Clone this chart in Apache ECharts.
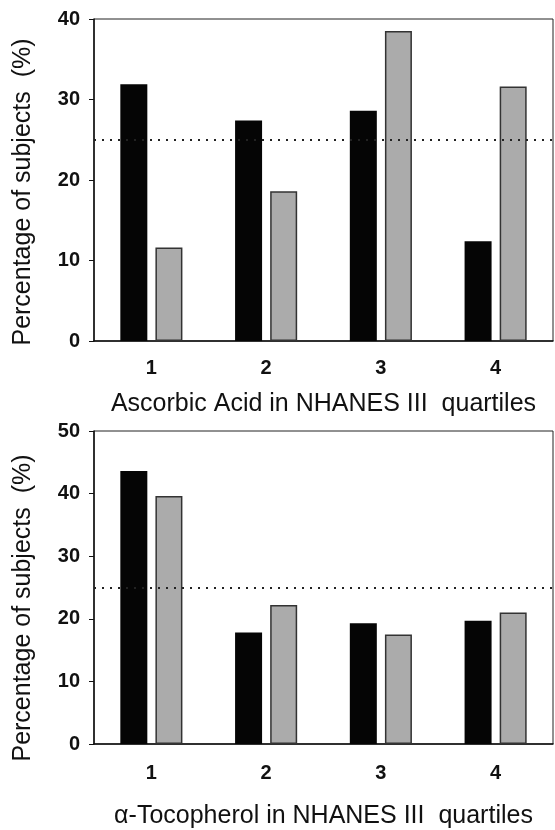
<!DOCTYPE html>
<html>
<head>
<meta charset="utf-8">
<script src="https://cdn.jsdelivr.net/npm/echarts@6/dist/echarts.min.js"></script>
<style>
html,body{margin:0;padding:0;background:#fff;}
#chart{width:555px;height:830px;}
</style>
</head>
<body>
<div id="chart"></div>
<script>
const quartiles = ['1', '2', '3', '4'];
const ascorbicBlack = [31.9, 27.4, 28.6, 12.4];
const ascorbicGray = [11.6, 18.6, 38.5, 31.6];
const tocopherolBlack = [43.6, 17.8, 19.3, 19.7];
const tocopherolGray = [39.6, 22.2, 17.5, 21.0];
const referenceLevel = 25;
const topTitle = 'Ascorbic Acid in NHANES III  quartiles';
const bottomTitle = '\u03b1-Tocopherol in NHANES III  quartiles';
const yTitle = 'Percentage of subjects  (%)';

const FONT = 'Liberation Sans, Arial, sans-serif';

function xAxisDef(gridIndex, name, nameGap, labelMargin) {
  return {
    type: 'category', gridIndex: gridIndex, data: quartiles,
    name: name, nameLocation: 'middle', nameGap: nameGap,
    nameTextStyle: {fontFamily: FONT, fontSize: 25, color: '#111'},
    axisLine: {lineStyle: {color: '#111', width: 1.5}},
    axisTick: {alignWithLabel: true, length: 5, lineStyle: {color: '#111'}},
    axisLabel: {fontFamily: FONT, fontSize: 20, fontWeight: 'bold', color: '#111', margin: labelMargin}
  };
}
function yAxisDef(gridIndex, max) {
  return {
    type: 'value', gridIndex: gridIndex, min: 0, max: max, interval: 10,
    axisLine: {show: true, lineStyle: {color: '#111', width: 1.5}},
    axisTick: {show: true, length: 5, lineStyle: {color: '#111'}},
    splitLine: {show: false},
    axisLabel: {fontFamily: FONT, fontSize: 20, fontWeight: 'bold', color: '#111', margin: 14}
  };
}
function barSeries(idx, data, dark, withLine) {
  const s = {
    type: 'bar', xAxisIndex: idx, yAxisIndex: idx, data: data,
    barWidth: 27, barGap: '30%',
    itemStyle: dark ? {color: '#050505'} : {color: '#ababab', borderColor: '#333', borderWidth: 1.5},
    silent: true
  };
  if (withLine) {
    s.markLine = {
      silent: true, symbol: ['none', 'none'], label: {show: false},
      lineStyle: {color: '#222', type: [2, 6], width: 2},
      data: [{yAxis: referenceLevel}],
      z: 10
    };
  }
  return s;
}

const chart = echarts.init(document.getElementById('chart'), null, {renderer: 'canvas'});
chart.setOption({
  animation: false,
  backgroundColor: '#fff',
  grid: [
    {left: 94, right: 2, top: 19, height: 322, show: true, borderColor: '#222', borderWidth: 1},
    {left: 94, right: 2, top: 431, height: 317, show: true, borderColor: '#222', borderWidth: 1}
  ],
  xAxis: [xAxisDef(0, topTitle, 51, 17), xAxisDef(1, bottomTitle, 60, 19)],
  yAxis: [yAxisDef(0, 40), yAxisDef(1, 50)],
  series: [
    barSeries(0, ascorbicBlack, true, false),
    barSeries(0, ascorbicGray, false, true),
    barSeries(1, tocopherolBlack, true, false),
    barSeries(1, tocopherolGray, false, true)
  ],
  graphic: [
    {type: 'text', x: 23, y: 192, rotation: Math.PI / 2,
     style: {text: yTitle, x: 0, y: 0, textAlign: 'center', textVerticalAlign: 'middle', font: '25px ' + FONT, fill: '#111'}},
    {type: 'text', x: 23, y: 608, rotation: Math.PI / 2,
     style: {text: yTitle, x: 0, y: 0, textAlign: 'center', textVerticalAlign: 'middle', font: '25px ' + FONT, fill: '#111'}}
  ]
});
</script>
</body>
</html>
